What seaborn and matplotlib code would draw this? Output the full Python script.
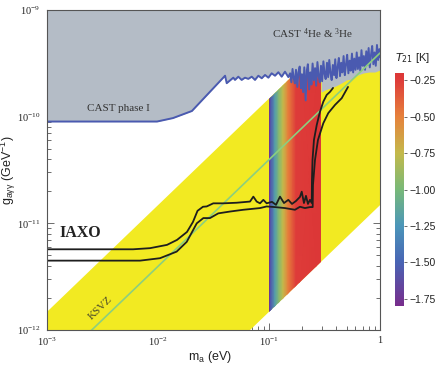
import numpy as np
import matplotlib
matplotlib.use("Agg")
import matplotlib.pyplot as plt
from matplotlib.colors import LinearSegmentedColormap, Normalize
from matplotlib.patches import Polygon
from matplotlib.ticker import NullFormatter
import seaborn as sns

# ── Data ─────────────────────────────────────────────────────────────────────

# QCD axion band (yellow), straight lines in log-log
band_m = [1e-3, 1.0]
band_lo = [1.48e-14, 1.48e-11]
band_hi = [1.48e-12, 1.48e-9]

# KSVZ line
ksvz_m = [1e-3, 1.0]
ksvz_g = [3.95e-13, 3.95e-10]

# CAST limit (blue line, grey excluded above)
cast_m = [0.001, 0.0098, 0.01365, 0.0202, 0.0402, 0.0416, 0.0477, 0.0494, 0.0529,
          0.0567, 0.0608, 0.0651, 0.0699, 0.0748, 0.0802, 0.0860, 0.0921, 0.0987,
          0.1057, 0.1133, 0.1214, 0.1301, 0.1393, 0.1493,
          0.155, 0.159, 0.163, 0.167, 0.171, 0.175, 0.180, 0.184, 0.189, 0.194,
          0.198, 0.203, 0.208, 0.214, 0.219, 0.224, 0.230, 0.236, 0.241, 0.247,
          0.253, 0.260, 0.266, 0.273, 0.280, 0.287, 0.294, 0.301, 0.309, 0.317,
          0.324, 0.333, 0.341, 0.349, 0.358, 0.367, 0.376, 0.386, 0.395, 0.405,
          0.415, 0.426, 0.436, 0.447, 0.458, 0.470, 0.482, 0.494, 0.506, 0.519,
          0.532, 0.545, 0.559, 0.573, 0.587, 0.602, 0.617, 0.632, 0.648, 0.664,
          0.681, 0.698, 0.715, 0.733, 0.752, 0.770, 0.790, 0.809, 0.830, 0.850,
          0.872, 0.893, 0.916, 0.939, 0.962, 0.986, 1.0]
cast_g = [9.0e-11, 9.0e-11, 9.7e-11, 1.13e-10, 2.42e-10, 2.06e-10, 2.32e-10, 2.21e-10, 2.37e-10,
          2.21e-10, 2.32e-10, 2.26e-10, 2.37e-10, 2.21e-10, 2.42e-10, 2.29e-10, 2.46e-10, 2.32e-10,
          2.55e-10, 2.42e-10, 2.61e-10, 2.37e-10, 2.64e-10, 2.35e-10,
          2.55e-10, 2.10e-10, 2.80e-10, 2.30e-10, 2.05e-10, 2.75e-10, 1.90e-10, 2.60e-10, 2.95e-10, 1.85e-10,
          2.50e-10, 1.70e-10, 2.90e-10, 1.42e-10, 2.70e-10, 3.10e-10, 1.80e-10, 2.60e-10, 2.00e-10, 3.15e-10,
          2.20e-10, 2.85e-10, 1.95e-10, 3.25e-10, 2.40e-10, 2.10e-10, 3.00e-10, 2.15e-10, 3.30e-10, 2.50e-10,
          2.25e-10, 3.20e-10, 2.35e-10, 3.40e-10, 2.55e-10, 2.20e-10, 3.05e-10, 2.45e-10, 3.45e-10, 2.30e-10,
          2.90e-10, 3.55e-10, 2.40e-10, 3.20e-10, 2.60e-10, 3.70e-10, 2.45e-10, 3.10e-10, 3.80e-10, 2.55e-10,
          3.35e-10, 2.70e-10, 3.90e-10, 2.60e-10, 3.50e-10, 2.75e-10, 4.00e-10, 2.80e-10, 3.60e-10, 2.70e-10,
          4.20e-10, 3.00e-10, 3.70e-10, 2.75e-10, 4.10e-10, 3.05e-10, 4.40e-10, 2.90e-10, 3.80e-10, 4.60e-10,
          3.10e-10, 4.00e-10, 3.00e-10, 4.70e-10, 3.40e-10, 4.30e-10, 3.60e-10]

# top of the yellow band right of the T21 region (grey above it)
ytop_m = [0.295, 0.32, 0.36, 0.40, 0.45, 0.50, 0.56, 0.63, 0.71, 0.80, 0.90, 1.0]
ytop_g = [1.70e-10, 1.78e-10, 1.86e-10, 1.94e-10, 2.07e-10, 2.21e-10, 2.26e-10,
          2.46e-10, 2.57e-10, 2.62e-10, 2.62e-10, 2.74e-10]

# T21 region
rainbow_m = [0.100, 0.104, 0.113, 0.123, 0.134, 0.148, 0.175, 0.295]
rainbow_T = [-1.80, -1.55, -1.20, -0.95, -0.75, -0.50, -0.25, -0.20]
rainbow_edge_m = [0.100, 0.295]
rainbow_edge_lo = [1.48e-12, 4.37e-12]
rainbow_edge_hi = [1.48e-10, 4.37e-10]

# IAXO sensitivity curves
iaxo1_m = [0.001, 0.00596, 0.00847, 0.01205, 0.01483, 0.01824, 0.02065, 0.02270, 0.02542,
           0.02748, 0.03148, 0.03873, 0.05117, 0.06745, 0.07228, 0.07745, 0.08299, 0.08892,
           0.09528, 0.1064, 0.1156, 0.1256, 0.1365, 0.1493, 0.1611, 0.1750, 0.1901, 0.1972,
           0.2065, 0.2153, 0.2244, 0.2339, 0.2427, 0.2438, 0.2466, 0.2541, 0.2692, 0.2877,
           0.3083, 0.3311, 0.3548, 0.3776]
iaxo1_g = [5.71e-12, 5.71e-12, 5.85e-12, 6.28e-12, 6.99e-12, 8.30e-12, 1.03e-11, 1.31e-11,
           1.43e-11, 1.44e-11, 1.54e-11, 1.54e-11, 1.56e-11, 1.60e-11, 1.78e-11, 1.60e-11,
           1.54e-11, 1.66e-11, 1.54e-11, 1.59e-11, 1.49e-11, 1.78e-11, 1.55e-11, 1.66e-11,
           1.52e-11, 1.62e-11, 1.77e-11, 1.98e-11, 1.55e-11, 1.81e-11, 1.52e-11, 1.66e-11,
           1.55e-11, 2.55e-11, 3.93e-11, 6.05e-11, 8.36e-11, 1.11e-10, 1.38e-10, 1.60e-10,
           1.71e-10, 1.86e-10]
iaxo2_m = [0.001, 0.00689, 0.01042, 0.01472, 0.01814, 0.02234, 0.02561, 0.02939, 0.03491,
           0.04453, 0.05866, 0.08299, 0.09528, 0.1132, 0.1393, 0.1714, 0.1901, 0.2109,
           0.2339, 0.2475, 0.2490, 0.2596, 0.2761, 0.3083, 0.3420, 0.3936, 0.4519, 0.5152]
iaxo2_g = [4.47e-12, 4.47e-12, 4.71e-12, 5.43e-12, 6.70e-12, 1.00e-11, 1.12e-11, 1.12e-11,
           1.24e-11, 1.29e-11, 1.34e-11, 1.39e-11, 1.44e-11, 1.42e-11, 1.39e-11, 1.34e-11,
           1.43e-11, 1.39e-11, 1.42e-11, 1.42e-11, 2.29e-11, 3.93e-11, 6.05e-11, 8.67e-11,
           1.08e-10, 1.29e-10, 1.49e-10, 1.90e-10]

x_ticks = [1e-3, 1e-2, 1e-1, 1.0]
x_ticklabels = [r"$\mathregular{10^{-3}}$", r"$\mathregular{10^{-2}}$",
                r"$\mathregular{10^{-1}}$", "1"]
y_ticks = [1e-12, 1e-11, 1e-10, 1e-9]
y_ticklabels = [r"$\mathregular{10^{-12}}$", r"$\mathregular{10^{-11}}$",
                r"$\mathregular{10^{-10}}$", r"$\mathregular{10^{-9}}$"]
cbar_ticks = [-1.75, -1.5, -1.25, -1.0, -0.75, -0.5, -0.25]
cbar_ticklabels = ["−1.75", "−1.50", "−1.25", "−1.00", "−0.75", "−0.50", "−0.25"]

assert len(cast_m) == len(cast_g)
assert len(iaxo1_m) == len(iaxo1_g) and len(iaxo2_m) == len(iaxo2_g)

# ── Style ────────────────────────────────────────────────────────────────────

sns.set_style("ticks")
plt.rcParams.update({
    "font.family": ["Liberation Serif", "DejaVu Serif"],
    "axes.edgecolor": "#555555",
    "axes.linewidth": 0.8,
    "xtick.color": "#555555",
    "ytick.color": "#555555",
    "xtick.labelcolor": "#222222",
    "ytick.labelcolor": "#222222",
})

YELLOW = "#f2ea22"
GRAY = "#b4bcc6"
BLUE = "#4a5ab0"
GREEN = "#8ccf7e"
SANS = ["Liberation Sans", "DejaVu Sans"]

cmap = LinearSegmentedColormap.from_list("rainbow_m", [
    (0.0, "#782d8c"), (0.1875, "#4864b4"), (0.344, "#4b96b9"), (0.5, "#78b978"),
    (0.656, "#c3b94b"), (0.8125, "#e6823c"), (0.97, "#de3c3a"), (1.0, "#dc3737")])
norm = Normalize(vmin=-1.8, vmax=-0.2)

fig = plt.figure(figsize=(4.37, 3.70), dpi=100)
ax = fig.add_axes([47 / 437, 40 / 370, 333 / 437, 320 / 370])
ax.set_xscale("log")
ax.set_yscale("log")

# yellow band
ax.fill_between(band_m, band_lo, band_hi, color=YELLOW, lw=0, zorder=1)
# grey above the band on the far right
ax.fill_between(ytop_m, ytop_g, 1e-9, color=GRAY, lw=0, zorder=2)

# T21 region, clipped to the band
X = np.array([rainbow_m, rainbow_m])
Y = np.array([[1e-12] * len(rainbow_m), [1e-9] * len(rainbow_m)])
C = np.array([rainbow_T, rainbow_T])
mesh = ax.pcolormesh(X, Y, C, cmap=cmap, norm=norm, shading="gouraud", zorder=3)
clip = Polygon([(rainbow_edge_m[0], rainbow_edge_lo[0]), (rainbow_edge_m[1], rainbow_edge_lo[1]),
                (rainbow_edge_m[1], rainbow_edge_hi[1]), (rainbow_edge_m[0], rainbow_edge_hi[0])],
               closed=True, transform=ax.transData, facecolor="none", edgecolor="none")
mesh.set_clip_path(clip)

# CAST excluded region
ax.fill_between(cast_m, cast_g, 1e-9, color=GRAY, lw=0, zorder=4)
sns.lineplot(x=cast_m, y=cast_g, sort=False, estimator=None, color=BLUE,
             linewidth=1.4, ax=ax, zorder=5, legend=False)

# KSVZ
sns.lineplot(x=ksvz_m, y=ksvz_g, sort=False, estimator=None, color=GREEN,
             linewidth=1.2, ax=ax, zorder=6, legend=False)

# IAXO
for m, g in [(iaxo1_m, iaxo1_g), (iaxo2_m, iaxo2_g)]:
    sns.lineplot(x=m, y=g, sort=False, estimator=None, color="#1e1e1e",
                 linewidth=1.3, ax=ax, zorder=7, legend=False)

ax.set_xlim(1e-3, 1.0)
ax.set_ylim(1e-12, 1e-9)
ax.set_xticks(x_ticks, x_ticklabels)
ax.set_yticks(y_ticks, y_ticklabels)
ax.xaxis.set_minor_formatter(NullFormatter())
ax.yaxis.set_minor_formatter(NullFormatter())
ax.tick_params(which="both", direction="in", top=True, right=True, width=0.6,
               labelsize=7.5)
ax.tick_params(which="major", length=5)
ax.tick_params(which="minor", length=3)
ax.tick_params(axis="x", pad=4)
ax.tick_params(axis="y", pad=5)
for s in ax.spines.values():
    s.set_zorder(10)

# labels
ax.set_xlabel(r"$\mathregular{m_a}$ (eV)", family=SANS, fontsize=9, color="#222222")
ax.xaxis.set_label_coords(0.49, -0.058)
ax.set_ylabel(r"g$\mathregular{_{aγγ}}$ (GeV$\mathregular{^{−1}}$)", family=SANS,
              fontsize=9, color="#222222")
ax.yaxis.set_label_coords(-0.088, 0.5)

ax.text(0.00436, 1.18e-10, "CAST phase I", fontsize=8, ha="center", va="center",
        color="#333333", zorder=11)
ax.text(0.249, 5.96e-10, r"CAST $\mathregular{^4}$He & $\mathregular{^3}$He", fontsize=8,
        ha="center", va="center", color="#333333", zorder=11)
ax.text(0.00198, 8.13e-12, "IAXO", fontsize=11.5, fontweight="bold", ha="center",
        va="center", color="#222222", zorder=11)
ax.text(0.00306, 1.61e-12, "KSVZ", fontsize=8, rotation=44, ha="center", va="center",
        color="#4a4a2a", zorder=11)

# colorbar
cax = fig.add_axes([395 / 437, 64 / 370, 9 / 437, 233 / 370])
sm = plt.cm.ScalarMappable(norm=norm, cmap=cmap)
cbar = fig.colorbar(sm, cax=cax)
cbar.outline.set_visible(False)
cbar.set_ticks(cbar_ticks, labels=cbar_ticklabels)
cax.tick_params(length=2.5, width=0.6, pad=1.5, labelsize=7.5, color="#555555")
for t in cax.get_yticklabels():
    t.set_family(SANS)
fig.text(395 / 437, 1 - 58 / 370, r"$T_{21}$ [K]", family=SANS, fontsize=8,
         ha="left", va="center", color="#222222")

fig.savefig("out.png", dpi=100)
